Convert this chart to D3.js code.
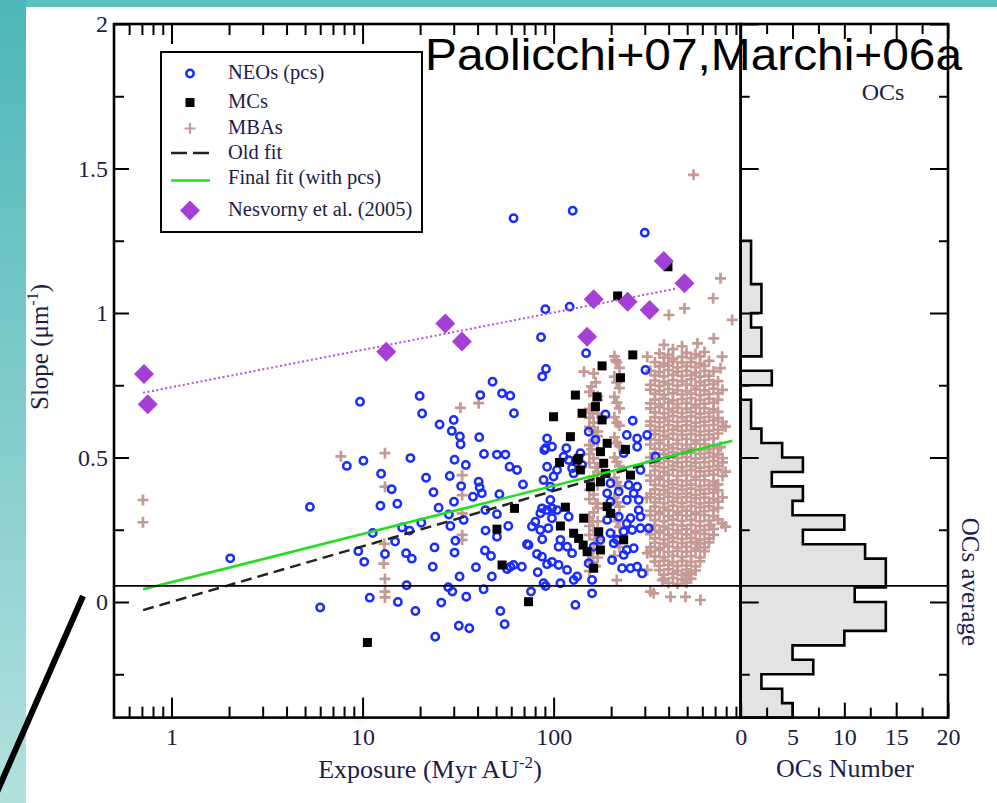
<!DOCTYPE html>
<html><head><meta charset="utf-8">
<script src="https://cdn.jsdelivr.net/npm/d3@7"></script>
<style>html,body{margin:0;padding:0;background:#fff;}svg{display:block;}</style>
</head><body>
<svg id="chart" width="997" height="803"></svg>
<script>
// ---------------- DATA ----------------
// Exposure (Myr AU^-2), Slope (um^-1)
const neoPoints = [
[2.03,0.151],[5.3,0.329],[6.0,-0.019],[9.7,0.693],[8.27,0.471],[10.1,0.489],[12.5,0.444],[14.2,0.390],[12.4,0.333],[15.2,0.340],
[11.3,0.239],[9.5,0.176],[10.2,0.139],[13.1,0.166],[14.8,0.209],[10.9,0.015],[15.3,0.0],[18.9,-0.031],[17.0,0.058],[16.9,0.169],
[18.1,0.150],[16.1,0.258],[17.6,0.247],[20.3,0.274],[17.8,0.498],[21.5,0.430],[23.5,0.380],[19.9,0.713],[20.5,0.652],[25.3,0.614],
[30.0,0.630],[29.3,0.592],[32.3,0.573],[32.6,0.546],[41.3,0.716],[40.8,0.570],[47.9,0.762],[53.7,0.722],[59.3,0.714],[62.0,0.653],
[43.2,0.512],[50.5,0.510],[55.9,0.510],[30.3,0.492],[34.7,0.474],[28.6,0.436],[32.8,0.401],[40.5,0.416],[41.0,0.396],[37.8,0.364],
[30.1,0.347],[25.0,0.326],[28.3,0.303],[28.8,0.263],[30.6,0.212],[23.8,0.189],[30.3,0.171],[23.3,0.122],[32.2,0.088],[28.1,0.051],
[29.5,0.036],[25.8,-0.002],[34.9,0.018],[43.0,0.044],[39.2,0.120],[43.7,0.178],[47.0,0.159],[44.0,0.247],[52.0,0.373],[58.8,0.468],
[64.3,0.457],[69.1,0.407],[57.9,0.263],[47.5,0.088],[59.3,0.122],[68.2,0.122],[52.6,-0.031],[55.4,-0.077],[31.9,-0.082],[36.2,-0.091],
[24.0,-0.120],[72.5,0.200],[81.8,0.166],[87.2,0.217],[82.5,0.103],[76.1,0.036],[90.8,0.055],[85.9,0.916],[87.2,0.780],[90.8,0.532],
[92.4,0.468],[80.2,0.278],[86.9,0.324],[77.0,0.261],[93.8,0.255],
[42.1,0.376],[33.8,0.284],[43.9,0.318],[50.5,0.304],[50.5,0.226],[85.2,0.307],[92.4,0.318],[98.0,0.324],[99.9,0.434],[88.6,0.422],
[96.1,0.399],[92.4,0.566],[98.0,0.537],[89.4,0.526],[116.6,0.532],[119.9,0.491],[138.1,0.515],[124.9,0.463],[140.9,0.474],[104.2,0.318],
[119.9,0.295],[85.2,0.249],[73.9,0.197],[61.7,0.128],[57.0,0.114],[92.4,0.131],[98.0,0.139],[106.2,0.128],[88.6,0.065],[132.7,0.088],
[117.6,0.111],[124.9,0.169],[106.2,0.191],[130.0,-0.010],[158.9,0.076],[158.9,0.030],
[198.3,0.347],[219.1,0.382],[247.2,0.405],[273.6,0.537],[308.7,0.578],[278.9,0.353],[278.9,0.318],[252.4,0.290],[232.6,0.243],[257.5,0.249],
[284.8,0.255],[314.7,0.255],[206.2,0.203],[262.5,0.186],[202.3,0.145],[232.6,0.163],[273.6,0.122],[290.5,0.099],[162.0,0.191],[175.8,0.215],
[190.6,0.284],[198.3,0.411],[341.2,0.503],
[61.7,1.328],[125.8,1.354],[299.9,1.278],[90.5,1.013],[121.3,1.022],[147.9,0.861],[302.5,0.803],[91.2,0.806],[259.5,0.627],[186.7,0.649],
[273.6,0.566],[241.6,0.578],[112.8,0.503],[104.2,0.457],[127.3,0.445],[152.6,0.589],[165.5,0.561],[273.6,0.399],[232.6,0.515],[284.8,0.457],
[241.6,0.353],[262.5,0.376],[284.8,0.295],[241.6,0.272],[219.1,0.295],[190.6,0.376],[214.2,0.215],[241.6,0.180],[252.4,0.117],[228.2,0.117],
[198.3,0.238],[96.1,0.353],[98.0,0.290],[108.5,0.215],[117.6,0.191],[86.9,0.157],[108.5,0.065],[127.3,0.076],[152.6,0.134]
];
const mcPoints = [
[10.6,-0.140],[73.9,0.001],[62.4,0.324],[50.5,0.252],[53.7,0.128],[99.9,0.641],[122.4,0.572],[107.4,0.483],[135.2,0.497],[138.1,0.457],
[175.8,0.520],[182.8,0.480],[186.7,0.445],[175.8,0.416],[155.8,0.399],[252.4,0.439],[115.2,0.328],[108.5,0.263],[143.6,0.290],[127.3,0.238],
[135.2,0.220],[142.7,0.197],[149.7,0.174],[172.2,0.243],[175.8,0.180],[162.0,0.117],[190.6,0.330],[198.3,0.307],[232.6,0.215],
[396.6,1.160],[216.3,1.059],[259.5,0.855],[179.3,0.817],[223.7,0.776],[130.0,0.716],[168.9,0.710],[165.5,0.676],[140.9,0.653],[179.3,0.630],
[190.6,0.549],[237.6,0.528],[132.7,0.491]
];
const mbaPoints = [
[0.709,0.353],[0.709,0.276],[7.7,0.504],[13.1,0.515],[13.1,0.399],[13.0,0.201],[12.9,0.133],[13.1,0.080],[13.1,0.036],[13.1,0.016],
[32.5,0.672],[40.5,0.688],[33.2,0.439],[33.2,0.370],[33.2,0.307],[33.2,0.232],[33.2,0.215],[214,0.076],[334,0.030],[409,0.018],
[490,0.018],[587,0.007],[662,0.266],[762,0.272],[794,0.451],[564,0.203],[490,0.076],[370,0.076],[747,1.120],[684,1.051],
[860,0.976],[484,1.016],[401,0.993],[689,0.912],[762,0.849],[747,0.809],[309,0.849],[144,0.797],[162,0.791],[211,0.837],
[794,0.261],[794,0.607],[747,0.537],[704,0.405],[321,0.036],[309,0.169],[309,0.111],[508,0.099],[540,1.478],
[154,0.727],[170,0.712],[154,0.668],[170,0.652],[154,0.606],[170,0.590],[154,0.543],[170,0.528],[154,0.481],[170,0.466],[154,0.419],
[170,0.404],[154,0.356],[170,0.340],[154,0.294],[170,0.279],[154,0.232],[170,0.216],[154,0.170],[170,0.154],[154,0.107],
[170,0.699],[154,0.637],[170,0.574],[154,0.512],[170,0.450],[154,0.388],[170,0.325],[154,0.263],[170,0.201],[154,0.138],[166,0.124],
[162,0.715],[162,0.684],[162,0.621],[162,0.560],[162,0.497],[162,0.435],[162,0.372],[162,0.310],[162,0.248],[162,0.186],[162,0.122],
[158,0.746],[166,0.760],[160,0.655],[164,0.590],[158,0.528],[166,0.466],[158,0.404],[166,0.341],[160,0.279],[164,0.217],[160,0.155],
[208,0.85],[221,0.81],[208,0.78],[221,0.74],[208,0.71],[221,0.67],[208,0.64],[221,0.61],[208,0.57],[221,0.54],[208,0.50],[221,0.47],
[208,0.43],[221,0.40],[208,0.36],[221,0.33],[208,0.30],[221,0.26],[208,0.23],[221,0.19],[208,0.16],
[214,0.83],[214,0.76],[214,0.69],[214,0.62],[214,0.55],[214,0.485],[214,0.415],[214,0.345],[214,0.28],[214,0.21],
[378,0.89],[470,0.885],[566,0.895],[421,0.875],
[358,0.86],[399,0.855],[496,0.862],[553,0.858],[616,0.865],[378,0.846],[421,0.842],[470,0.848],[524,0.844],[584,0.85],
[339,0.83],[378,0.826],[421,0.832],[470,0.828],[524,0.83],[584,0.825],[650,0.834],[358,0.815],[399,0.818],[445,0.812],[496,0.816],[553,0.813],[616,0.817],
[321,0.80],[358,0.796],[399,0.802],[445,0.797],[496,0.80],[553,0.794],[616,0.80],[687,0.798],[339,0.784],[378,0.781],[421,0.786],[470,0.782],[524,0.785],[584,0.78],[650,0.783],
[339,0.766],[378,0.762],[421,0.768],[470,0.764],[524,0.77],[584,0.762],[650,0.767],[725,0.764],[321,0.751],[358,0.748],[399,0.753],[445,0.749],[496,0.752],[553,0.747],[616,0.75],[687,0.754],
[321,0.735],[358,0.731],[399,0.737],[445,0.733],[496,0.73],[553,0.736],[616,0.732],[687,0.738],[765,0.734],[339,0.72],[378,0.717],[421,0.722],[470,0.718],[524,0.721],[584,0.716],[650,0.719],[725,0.722],
[339,0.70],[378,0.704],[421,0.698],[470,0.702],[524,0.705],[584,0.699],[650,0.703],[725,0.70],[321,0.687],[358,0.684],[399,0.689],[445,0.685],[496,0.688],[553,0.683],[616,0.686],[687,0.69],
[321,0.67],[358,0.674],[399,0.668],[445,0.672],[496,0.669],[553,0.673],[616,0.671],[687,0.667],[339,0.656],[378,0.653],[421,0.658],[470,0.654],[524,0.657],[584,0.652],[650,0.655],[725,0.658],
[339,0.64],[378,0.637],[421,0.643],[470,0.639],[524,0.642],[584,0.638],[650,0.641],[725,0.636],[321,0.625],[358,0.622],[399,0.627],[445,0.623],[496,0.626],[553,0.621],[616,0.624],[687,0.628],[765,0.623],
[321,0.61],[358,0.606],[399,0.612],[445,0.608],[496,0.611],[553,0.607],[616,0.61],[687,0.613],[765,0.609],[339,0.594],[378,0.591],[421,0.596],[470,0.592],[524,0.595],[584,0.59],[650,0.593],[725,0.596],
[339,0.58],[378,0.576],[421,0.582],[470,0.578],[524,0.581],[584,0.577],[650,0.579],[725,0.583],[321,0.563],[358,0.56],[399,0.565],[445,0.561],[496,0.564],[553,0.559],[616,0.562],[687,0.566],
[321,0.545],[358,0.549],[399,0.543],[445,0.547],[496,0.544],[553,0.548],[616,0.546],[687,0.542],[339,0.53],[378,0.527],[421,0.532],[470,0.528],[524,0.531],[584,0.526],[650,0.529],[725,0.532],
[339,0.515],[378,0.512],[421,0.518],[470,0.514],[524,0.517],[584,0.513],[650,0.516],[725,0.511],[321,0.5],[358,0.497],[399,0.502],[445,0.498],[496,0.501],[553,0.496],[616,0.499],[687,0.503],[765,0.498],
[321,0.485],[358,0.481],[399,0.487],[445,0.483],[496,0.486],[553,0.482],[616,0.484],[687,0.488],[765,0.483],[339,0.469],[378,0.466],[421,0.471],[470,0.467],[524,0.47],[584,0.465],[650,0.468],[725,0.471],
[339,0.455],[378,0.451],[421,0.457],[470,0.453],[524,0.456],[584,0.452],[650,0.454],[725,0.458],[321,0.438],[358,0.435],[399,0.44],[445,0.436],[496,0.439],[553,0.434],[616,0.437],[687,0.441],[765,0.436],
[321,0.42],[358,0.424],[399,0.418],[445,0.422],[496,0.419],[553,0.423],[616,0.421],[687,0.417],[339,0.405],[378,0.402],[421,0.407],[470,0.403],[524,0.406],[584,0.401],[650,0.404],[725,0.407],
[339,0.39],[378,0.387],[421,0.393],[470,0.389],[524,0.392],[584,0.388],[650,0.391],[725,0.386],[321,0.375],[358,0.372],[399,0.377],[445,0.373],[496,0.376],[553,0.371],[616,0.374],[687,0.378],
[307,0.36],[321,0.362],[358,0.358],[399,0.364],[445,0.36],[496,0.363],[553,0.359],[616,0.361],[687,0.357],[765,0.362],[339,0.345],[378,0.342],[421,0.347],[470,0.343],[524,0.346],[584,0.341],[650,0.344],[725,0.347],
[339,0.33],[378,0.327],[421,0.333],[470,0.329],[524,0.332],[584,0.328],[650,0.331],[725,0.326],[321,0.315],[358,0.312],[399,0.317],[445,0.313],[496,0.316],[553,0.311],[616,0.314],[687,0.318],
[321,0.30],[358,0.304],[399,0.298],[445,0.302],[496,0.299],[553,0.303],[616,0.301],[687,0.297],[339,0.283],[378,0.28],[421,0.285],[470,0.281],[524,0.284],[584,0.279],[650,0.282],[725,0.285],
[339,0.265],[378,0.262],[421,0.268],[470,0.264],[524,0.267],[584,0.263],[650,0.266],[321,0.25],[358,0.247],[399,0.252],[445,0.248],[496,0.251],[553,0.246],[616,0.249],[687,0.253],
[321,0.235],[358,0.239],[399,0.233],[445,0.237],[496,0.234],[553,0.238],[616,0.236],[687,0.232],[339,0.22],[378,0.217],[421,0.222],[470,0.218],[524,0.221],[584,0.216],[650,0.219],
[339,0.205],[378,0.202],[421,0.208],[470,0.204],[524,0.207],[584,0.203],[650,0.206],[321,0.19],[358,0.187],[399,0.192],[445,0.188],[496,0.191],[553,0.186],[616,0.189],
[321,0.175],[358,0.179],[399,0.173],[445,0.177],[496,0.174],[553,0.178],[616,0.176],[339,0.158],[378,0.155],[421,0.16],[470,0.156],[524,0.159],[584,0.154],
[339,0.14],[378,0.143],[421,0.138],[470,0.142],[524,0.139],[584,0.141],[358,0.125],[399,0.128],[445,0.124],[496,0.127],[553,0.123],
[358,0.11],[399,0.113],[445,0.108],[496,0.112],[553,0.109],[378,0.095],[421,0.098],[470,0.094],[524,0.097],
[378,0.08],[421,0.083],[470,0.078],[524,0.081],[399,0.066],[445,0.063],[496,0.067]
];
const nesvornyPoints = [[0.718,0.789],[0.751,0.684],[13.3,0.866],[27.1,0.964],[33.1,0.901],[149.7,0.918],[162,1.048],[244,1.039],[318,1.010],[377,1.180],[484,1.103]];
const nesvornyFit = [[0.71,0.724],[443,1.085]];
const oldFit = [[0.71,-0.028],[550,0.527]];
const finalFit = [[0.71,0.044],[861,0.558]];
const ocAverage = 0.056;
// OCs histogram: lower bin edges (slope) and counts, bin width 0.05
const ocBinLow = [1.20,1.15,1.10,1.05,1.00,0.95,0.90,0.85,0.80,0.75,0.70,0.65,0.60,0.55,0.50,0.45,0.40,0.35,0.30,0.25,0.20,0.15,0.10,0.05,0.00,-0.05,-0.10,-0.15,-0.20,-0.25,-0.30,-0.35,-0.40];
const ocCounts = [1,1,1,2,2,1,2,2,0,3,0,1,1,2,4,6,3,6,5,10,6,12,14,14,11,14,14,10,5,7,2,4,5];
const ocBinWidth = 0.05;
// ticks
const xMajorTicks = [1,10,100];
const xMinorTicks = [0.6,0.7,0.8,0.9,2,3,4,5,6,7,8,9,20,30,40,50,60,70,80,90,200,300,400,500,600,700,800,900];
const yMajorTicks = [0,0.5,1,1.5,2];
const yMinorTicks = [-0.25,0.25,0.75,1.25,1.75];
const histMajorTicks = [0,5,10,15,20];
const histMinorTicks = [2.5,7.5,12.5,17.5];
const legendLabels = ["NEOs (pcs)","MCs","MBAs","Old fit","Final fit (with pcs)","Nesvorny et al. (2005)"];

// ---------------- DRAW ----------------
const W=997,H=803;
const SERIF='"Liberation Serif","Times New Roman",serif';
const LABEL='#1e1c48';
const svg=d3.select('#chart');
const defs=svg.append('defs');
const grad=defs.append('linearGradient').attr('id','teal').attr('x1',0).attr('y1',0).attr('x2',0).attr('y2',1);
grad.append('stop').attr('offset','0%').attr('stop-color','#4db7b7');
grad.append('stop').attr('offset','100%').attr('stop-color','#b3e1e0');
svg.append('rect').attr('width',W).attr('height',H).attr('fill','#fff');
svg.append('rect').attr('x',0).attr('y',0).attr('width',W).attr('height',7).attr('fill','#5cc1bf');
svg.append('rect').attr('x',0).attr('y',0).attr('width',26).attr('height',H).attr('fill','url(#teal)');

const x=d3.scaleLog().domain([0.5,953]).range([114,740.7]);
const y=d3.scaleLinear().domain([-0.4,2]).range([717.6,24]);
const hx=d3.scaleLinear().domain([0,20]).range([740.7,948]);
const X0=x.range()[0],X1=x.range()[1],Y0=y.range()[1],Y1=y.range()[0];

defs.append('clipPath').attr('id','plotclip').append('rect')
  .attr('x',X0).attr('y',Y0).attr('width',X1-X0).attr('height',Y1-Y0);

// histogram
const hp=d3.path();
hp.moveTo(hx(0),y(ocBinLow[0]+ocBinWidth));
ocBinLow.forEach((lo,i)=>{
  const hi=lo+ocBinWidth, c=ocCounts[i];
  hp.lineTo(hx(c),y(hi));
  hp.lineTo(hx(c),y(Math.max(lo,-0.4)));
});
hp.lineTo(hx(0),y(-0.4));
hp.closePath();
svg.append('path').attr('d',hp.toString()).attr('fill','#e3e3e3').attr('stroke','#000').attr('stroke-width',2.6).attr('stroke-linejoin','miter');

function styleAxis(g){
  g.select('.domain').remove();
  g.selectAll('.tick line').attr('stroke','#000').attr('stroke-width',2);
  g.attr('font-family',SERIF).attr('font-size',24);
  g.selectAll('.tick text').attr('fill',LABEL);
}
const fmt=d=>String(d);
svg.append('g').attr('transform',`translate(0,${Y1})`)
  .call(d3.axisBottom(x).tickValues(xMajorTicks).tickFormat(fmt).tickSizeInner(-20).tickSizeOuter(0).tickPadding(10)).call(styleAxis);
svg.append('g').attr('transform',`translate(0,${Y1})`)
  .call(d3.axisBottom(x).tickValues(xMinorTicks).tickFormat('').tickSizeInner(-11).tickSizeOuter(0)).call(styleAxis);
svg.append('g').attr('transform',`translate(0,${Y0})`)
  .call(d3.axisTop(x).tickValues(xMajorTicks).tickFormat('').tickSizeInner(-20).tickSizeOuter(0)).call(styleAxis);
svg.append('g').attr('transform',`translate(0,${Y0})`)
  .call(d3.axisTop(x).tickValues(xMinorTicks).tickFormat('').tickSizeInner(-11).tickSizeOuter(0)).call(styleAxis);
svg.append('g').attr('transform',`translate(${X0},0)`)
  .call(d3.axisLeft(y).tickValues(yMajorTicks).tickFormat(fmt).tickSizeInner(-15).tickSizeOuter(0).tickPadding(6)).call(styleAxis);
svg.append('g').attr('transform',`translate(${X0},0)`)
  .call(d3.axisLeft(y).tickValues(yMinorTicks).tickFormat('').tickSizeInner(-10).tickSizeOuter(0)).call(styleAxis);
svg.append('g').attr('transform',`translate(0,${Y1})`)
  .call(d3.axisBottom(hx).tickValues(histMajorTicks).tickFormat(fmt).tickSizeInner(-15).tickSizeOuter(0).tickPadding(10)).call(styleAxis);
svg.append('g').attr('transform',`translate(0,${Y1})`)
  .call(d3.axisBottom(hx).tickValues(histMinorTicks).tickFormat('').tickSizeInner(-10).tickSizeOuter(0)).call(styleAxis);
svg.append('g').attr('transform',`translate(0,${Y0})`)
  .call(d3.axisTop(hx).tickValues(histMajorTicks).tickFormat('').tickSizeInner(-15).tickSizeOuter(0)).call(styleAxis);
svg.append('g').attr('transform',`translate(0,${Y0})`)
  .call(d3.axisTop(hx).tickValues(histMinorTicks).tickFormat('').tickSizeInner(-10).tickSizeOuter(0)).call(styleAxis);
svg.append('g').attr('transform',`translate(${hx(0)},0)`)
  .call(d3.axisRight(y).tickValues(yMajorTicks).tickFormat('').tickSizeInner(18).tickSizeOuter(0)).call(styleAxis);
svg.append('g').attr('transform',`translate(${hx(0)},0)`)
  .call(d3.axisRight(y).tickValues(yMinorTicks).tickFormat('').tickSizeInner(9).tickSizeOuter(0)).call(styleAxis);
svg.append('g').attr('transform',`translate(${hx(20)},0)`)
  .call(d3.axisLeft(y).tickValues(yMajorTicks).tickFormat('').tickSizeInner(18).tickSizeOuter(0)).call(styleAxis);
svg.append('g').attr('transform',`translate(${hx(20)},0)`)
  .call(d3.axisLeft(y).tickValues(yMinorTicks).tickFormat('').tickSizeInner(9).tickSizeOuter(0)).call(styleAxis);

// markers
const plot=svg.append('g').attr('clip-path','url(#plotclip)');
const plusD='M-5.5,0H5.5M0,-5.5V5.5';
plot.append('g').selectAll('path').data(mbaPoints).join('path')
  .attr('d',plusD).attr('transform',d=>`translate(${x(d[0])},${y(d[1])})`)
  .attr('stroke','#c69a94').attr('stroke-width',2.7).attr('fill','none');
plot.append('g').selectAll('circle').data(neoPoints).join('circle')
  .attr('cx',d=>x(d[0])).attr('cy',d=>y(d[1])).attr('r',3.7)
  .attr('fill','none').attr('stroke','#1a2dff').attr('stroke-width',2.5);
plot.append('g').selectAll('rect').data(mcPoints).join('rect')
  .attr('x',d=>x(d[0])-4.5).attr('y',d=>y(d[1])-4.5).attr('width',9).attr('height',9).attr('fill','#000');
const line=d3.line().x(d=>x(d[0])).y(d=>y(d[1]));
plot.append('path').attr('d',line(nesvornyFit)).attr('stroke','#b24fe0').attr('stroke-width',2).attr('stroke-dasharray','2,2.5').attr('fill','none');
plot.append('path').attr('d',line(oldFit)).attr('stroke','#222').attr('stroke-width',2.5).attr('stroke-dasharray','11,6').attr('fill','none');
plot.append('path').attr('d',line(finalFit)).attr('stroke','#1ee01e').attr('stroke-width',2.6).attr('fill','none');
const diamondD='M0,-10L10,0L0,10L-10,0Z';
plot.append('g').selectAll('path').data(nesvornyPoints).join('path')
  .attr('d',diamondD).attr('transform',d=>`translate(${x(d[0])},${y(d[1])})`).attr('fill','#a53fd6');

svg.append('line').attr('x1',X0).attr('x2',hx(20)).attr('y1',y(ocAverage)).attr('y2',y(ocAverage))
  .attr('stroke','#000').attr('stroke-width',1.8);

svg.append('rect').attr('x',X0).attr('y',Y0).attr('width',X1-X0).attr('height',Y1-Y0).attr('fill','none').attr('stroke','#000').attr('stroke-width',2.6);
svg.append('rect').attr('x',hx(0)).attr('y',Y0).attr('width',hx(20)-hx(0)).attr('height',Y1-Y0).attr('fill','none').attr('stroke','#000').attr('stroke-width',2.6);

// legend
const lg=svg.append('g');
lg.append('rect').attr('x',161).attr('y',52).attr('width',261).attr('height',180).attr('fill','#fff').attr('stroke','#000').attr('stroke-width',2);
const rowsY=[79,108,134,159,184,216];
const symY=[73.5,102.5,128.5,153,180.5,210.5];
lg.append('circle').attr('cx',190).attr('cy',symY[0]).attr('r',3.7).attr('fill','none').attr('stroke','#1a2dff').attr('stroke-width',2.5);
lg.append('rect').attr('x',185.5).attr('y',symY[1]-4.5).attr('width',9).attr('height',9).attr('fill','#000');
lg.append('path').attr('d',plusD).attr('transform',`translate(190,${symY[2]})`).attr('stroke','#c69a94').attr('stroke-width',2.2);
lg.append('line').attr('x1',171).attr('x2',209).attr('y1',symY[3]).attr('y2',symY[3]).attr('stroke','#222').attr('stroke-width',2.5).attr('stroke-dasharray','16,6');
lg.append('line').attr('x1',171).attr('x2',210).attr('y1',symY[4]).attr('y2',symY[4]).attr('stroke','#1ee01e').attr('stroke-width',2.6);
lg.append('path').attr('d',diamondD).attr('transform',`translate(190,${symY[5]})`).attr('fill','#a53fd6');
lg.selectAll('text').data(legendLabels).join('text')
  .attr('x',228).attr('y',(d,i)=>rowsY[i]).text(d=>d)
  .attr('font-family',SERIF).attr('font-size',20.5).attr('fill',LABEL);

const xt=svg.append('text').attr('x',430).attr('y',778).attr('text-anchor','middle')
  .attr('font-family',SERIF).attr('font-size',26).attr('fill',LABEL);
xt.append('tspan').text('Exposure (Myr AU');
xt.append('tspan').text('-2').attr('font-size',17).attr('dy',-10);
xt.append('tspan').text(')').attr('dy',10);
const yt=svg.append('text').attr('transform','translate(48,347) rotate(-90)').attr('text-anchor','middle')
  .attr('font-family',SERIF).attr('font-size',25).attr('fill',LABEL);
yt.append('tspan').text('Slope (\u03bcm');
yt.append('tspan').text('-1').attr('font-size',16).attr('dy',-10);
yt.append('tspan').text(')').attr('dy',10);
svg.append('text').attr('x',845).attr('y',777).attr('text-anchor','middle').attr('font-family',SERIF)
  .attr('font-size',26).attr('fill',LABEL).text('OCs Number');
svg.append('text').attr('x',883).attr('y',100).attr('text-anchor','middle').attr('font-family',SERIF)
  .attr('font-size',24).attr('fill',LABEL).text('OCs');
svg.append('text').attr('transform','translate(962,582) rotate(90)').attr('text-anchor','middle').attr('font-family',SERIF)
  .attr('font-size',25).attr('fill',LABEL).text('OCs average');

svg.append('text').attr('x',425).attr('y',70).attr('font-family','"Liberation Sans",Arial,sans-serif')
  .attr('font-size',44).attr('fill','#000').attr('textLength',537).attr('lengthAdjust','spacingAndGlyphs')
  .text('Paolicchi+07,Marchi+06a');

svg.append('line').attr('x1',83).attr('y1',596).attr('x2',-3).attr('y2',792).attr('stroke','#000').attr('stroke-width',6);
</script>
</body></html>
